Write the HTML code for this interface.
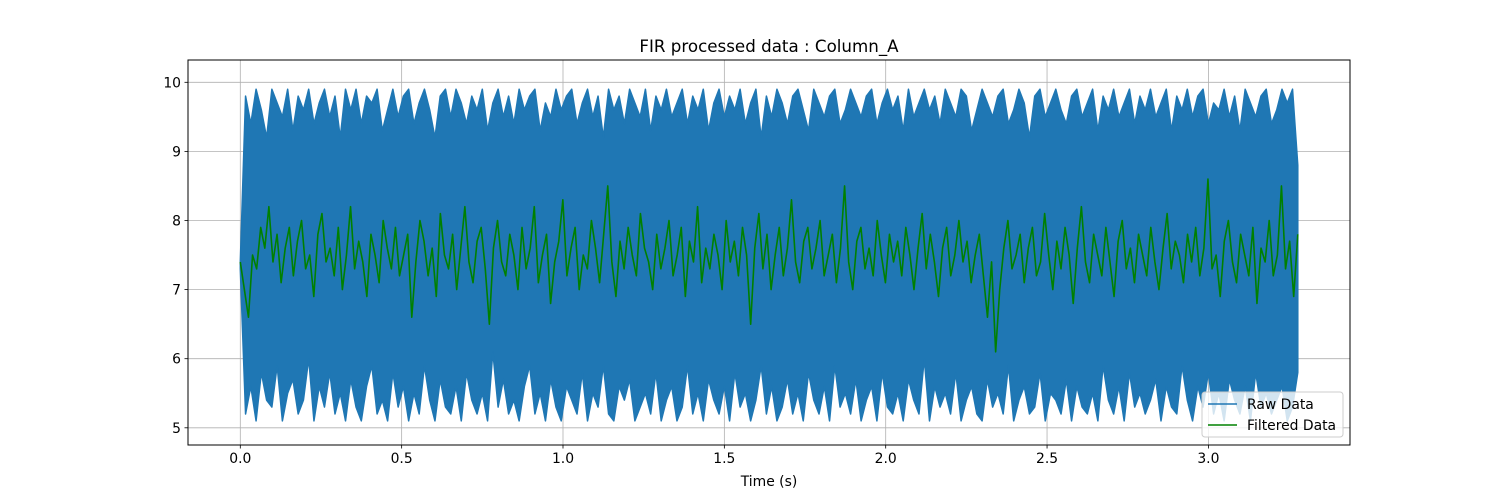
<!DOCTYPE html>
<html><head><meta charset="utf-8"><style>
body{margin:0;background:#fff;}
svg{display:block;font-family:"DejaVu Sans","Liberation Sans",sans-serif;}
</style></head><body>
<svg id="chart" width="1500" height="500" viewBox="0 0 1500 500" xmlns="http://www.w3.org/2000/svg">
<rect width="1500" height="500" fill="#fff"/>
<g id="grid"></g>
<g id="plot"></g>
<g id="axes"></g>
<text x="769" y="52" text-anchor="middle" font-size="16.7">FIR processed data : Column_A</text>
<text x="769" y="486" text-anchor="middle" font-size="13.9">Time (s)</text>
<g>
<rect x="1202" y="392" width="141" height="45" rx="3" fill="#fff" fill-opacity="0.8" stroke="#ccc"/>
<g><line x1="1208" y1="404" x2="1237" y2="404" stroke="#1f77b4" stroke-width="1.5"/><text x="1247" y="409" font-size="13.9">Raw Data</text></g>
<g><line x1="1208" y1="425" x2="1237" y2="425" stroke="#008000" stroke-width="1.5"/><text x="1247" y="430" font-size="13.9">Filtered Data</text></g>
</g>
</svg>
<script>
const xTicks=[0,0.5,1.0,1.5,2.0,2.5,3.0];
const xTickLabels=["0.0","0.5","1.0","1.5","2.0","2.5","3.0"];
const yTicks=[5,6,7,8,9,10];
const yTickLabels=["5","6","7","8","9","10"];
const tEnd=3.277;
const rawHigh=[7.4,9.8,9.4,9.9,9.6,9.2,9.9,9.7,9.5,9.9,9.3,9.8,9.6,9.9,9.4,9.7,9.9,9.5,9.8,9.2,9.9,
9.6,9.9,9.4,9.8,9.7,9.9,9.3,9.6,9.9,9.5,9.8,9.9,9.4,9.7,9.9,9.6,9.2,9.8,9.9,9.5,
9.9,9.7,9.4,9.8,9.6,9.9,9.3,9.7,9.9,9.5,9.8,9.4,9.9,9.6,9.8,9.9,9.3,9.7,9.5,9.9,
9.6,9.8,9.9,9.4,9.7,9.9,9.5,9.8,9.2,9.9,9.6,9.8,9.4,9.9,9.7,9.5,9.9,9.3,9.8,9.6,
9.9,9.5,9.7,9.9,9.4,9.8,9.6,9.9,9.3,9.7,9.9,9.5,9.8,9.6,9.9,9.4,9.7,9.9,9.2,9.8,
9.5,9.9,9.7,9.4,9.8,9.9,9.6,9.3,9.9,9.7,9.5,9.8,9.9,9.4,9.6,9.9,9.7,9.5,9.8,9.9,
9.4,9.7,9.9,9.6,9.8,9.3,9.9,9.5,9.7,9.9,9.6,9.8,9.4,9.9,9.7,9.5,9.9,9.8,9.3,9.6,
9.9,9.7,9.5,9.8,9.9,9.4,9.6,9.9,9.7,9.2,9.8,9.9,9.5,9.7,9.9,9.6,9.4,9.8,9.9,9.5,
9.7,9.9,9.3,9.8,9.6,9.9,9.5,9.7,9.9,9.4,9.8,9.6,9.9,9.5,9.7,9.9,9.3,9.8,9.6,9.9,
9.5,9.8,9.9,9.4,9.7,9.6,9.9,9.5,9.8,9.3,9.9,9.7,9.5,9.8,9.9,9.4,9.6,9.9,9.7,9.9,8.8];
const rawLow=[7.3,5.2,5.6,5.1,5.8,5.4,5.3,5.9,5.1,5.5,5.7,5.2,5.4,6.0,5.1,5.6,5.3,5.8,5.2,5.5,5.1,
5.7,5.3,5.1,5.6,5.9,5.2,5.4,5.1,5.8,5.3,5.6,5.1,5.5,5.2,5.9,5.4,5.1,5.7,5.3,5.2,
5.6,5.1,5.8,5.4,5.2,5.5,5.1,6.1,5.3,5.7,5.2,5.4,5.1,5.6,5.9,5.2,5.5,5.1,5.7,5.3,
5.1,5.6,5.4,5.2,5.8,5.1,5.5,5.3,5.9,5.2,5.1,5.6,5.4,5.7,5.1,5.3,5.5,5.2,5.8,5.1,
5.4,5.6,5.1,5.3,5.9,5.2,5.5,5.1,5.7,5.4,5.2,5.6,5.1,5.8,5.3,5.5,5.1,5.4,5.9,5.2,
5.6,5.1,5.3,5.7,5.2,5.5,5.1,5.8,5.4,5.2,5.6,5.1,5.9,5.3,5.5,5.2,5.7,5.1,5.4,5.6,
5.1,5.8,5.3,5.2,5.5,5.1,5.7,5.4,5.2,6.0,5.1,5.6,5.3,5.5,5.2,5.8,5.1,5.4,5.6,5.2,
5.1,5.7,5.3,5.5,5.2,5.9,5.1,5.4,5.6,5.2,5.3,5.8,5.1,5.5,5.4,5.2,5.7,5.1,5.6,5.3,
5.2,5.5,5.1,5.9,5.4,5.2,5.6,5.1,5.8,5.3,5.5,5.2,5.4,5.7,5.1,5.6,5.3,5.2,5.9,5.4,
5.1,5.6,5.3,5.8,5.2,5.5,5.1,5.7,5.4,5.2,5.6,5.1,5.8,5.3,5.5,5.2,5.4,5.6,5.1,5.3,5.8];
const filtered=[7.4,7.0,6.6,7.5,7.3,7.9,7.6,8.2,7.4,7.8,7.1,7.6,7.9,7.2,7.7,8.0,7.3,7.5,6.9,7.8,
8.1,7.4,7.6,7.2,7.9,7.0,7.5,8.2,7.3,7.7,7.4,6.9,7.8,7.5,7.1,8.0,7.6,7.3,7.9,7.2,
7.5,7.8,6.6,7.4,8.0,7.7,7.2,7.6,6.9,8.1,7.5,7.3,7.8,7.0,7.6,8.2,7.4,7.1,7.7,7.9,
7.3,6.5,7.6,8.0,7.4,7.2,7.8,7.5,7.0,7.9,7.3,7.6,8.2,7.1,7.5,7.8,6.8,7.4,7.7,8.3,
7.2,7.6,7.9,7.0,7.5,7.3,8.0,7.6,7.1,7.8,8.5,7.4,6.9,7.7,7.3,7.9,7.5,7.2,8.1,7.6,
7.4,7.0,7.8,7.3,7.6,8.0,7.2,7.5,7.9,6.9,7.7,7.4,8.2,7.1,7.6,7.3,7.8,7.5,7.0,8.0,
7.4,7.7,7.2,7.9,7.5,6.5,7.6,8.1,7.3,7.8,7.0,7.5,7.9,7.2,7.6,8.3,7.4,7.1,7.7,7.9,
7.3,7.6,8.0,7.2,7.5,7.8,7.1,7.6,8.5,7.4,7.0,7.7,7.9,7.3,7.6,7.2,8.0,7.5,7.1,7.8,
7.4,7.7,7.2,7.9,7.5,7.0,7.6,8.1,7.3,7.8,7.4,6.9,7.6,7.9,7.2,7.5,8.0,7.4,7.7,7.1,
7.5,7.8,7.2,6.6,7.4,6.1,7.0,7.6,8.0,7.3,7.5,7.8,7.1,7.6,7.9,7.2,7.4,8.1,7.5,7.0,
7.7,7.3,7.9,7.5,6.8,7.6,8.2,7.4,7.1,7.8,7.5,7.2,7.9,7.4,6.9,7.7,8.0,7.3,7.6,7.1,
7.8,7.5,7.2,7.9,7.4,7.0,7.6,8.1,7.3,7.7,7.5,7.1,7.8,7.4,7.9,7.2,7.6,8.6,7.3,7.5,
6.9,7.7,8.0,7.4,7.1,7.8,7.5,7.2,7.9,6.8,7.6,7.4,8.0,7.2,7.5,8.5,7.3,7.7,6.9,7.8];
const L=188,R=1350,T=60,B=445;
const x=v=>240.3+v*322.7;
const y=v=>82.3+(10-v)*69.1;
const NS="http://www.w3.org/2000/svg";
const mk=(p,tag,a)=>{const e=document.createElementNS(NS,tag);for(const k in a)e.setAttribute(k,a[k]);p.appendChild(e);return e;};
const grid=document.getElementById('grid'),axes=document.getElementById('axes'),plot=document.getElementById('plot');
xTicks.forEach((v,i)=>{
 const g=mk(grid,'line',{x1:x(v),x2:x(v),y1:T,y2:B,stroke:'#b0b0b0','stroke-width':0.8});
 
 
 const t=mk(axes,'line',{x1:x(v),x2:x(v),y1:B,y2:B+3.5,stroke:'#000','stroke-width':0.8});
 
 
 const l=mk(axes,'text',{x:x(v),y:B+18,'text-anchor':'middle','font-size':13.9});
 
 
 l.textContent=xTickLabels[i];
});
yTicks.forEach((v,i)=>{
 const g=mk(grid,'line',{x1:L,x2:R,y1:y(v),y2:y(v),stroke:'#b0b0b0','stroke-width':0.8});
 
 
 const t=mk(axes,'line',{x1:L-3.5,x2:L,y1:y(v),y2:y(v),stroke:'#000','stroke-width':0.8});
 
 
 const l=mk(axes,'text',{x:L-7,y:y(v)+5,'text-anchor':'end','font-size':13.9});
 
 
 l.textContent=yTickLabels[i];
});
const tx=(i,n)=>x(i*tEnd/(n-1));
const path=(arr)=>arr.map((v,i)=>(i?'L':'M')+tx(i,arr.length).toFixed(2)+' '+y(v).toFixed(2)).join('');
// raw envelope band (top = rawHigh, bottom = rawLow)
let band=rawHigh.map((v,i)=>(i?'L':'M')+tx(i,rawHigh.length).toFixed(2)+' '+y(v).toFixed(2)).join('');
for(let i=rawLow.length-1;i>=0;i--)band+='L'+tx(i,rawLow.length).toFixed(2)+' '+y(rawLow[i]).toFixed(2);
band+='Z';
const bp=mk(plot,'path',{d:band,fill:'#1f77b4',stroke:'#1f77b4','stroke-width':1.5,'stroke-linejoin':'round'});


const fp=mk(plot,'path',{d:path(filtered),fill:'none',stroke:'#008000','stroke-width':1.6,'stroke-linejoin':'round'});


const fr=mk(axes,'rect',{x:L,y:T,width:R-L,height:B-T,fill:'none',stroke:'#000','stroke-width':1});


</script>
</body></html>
